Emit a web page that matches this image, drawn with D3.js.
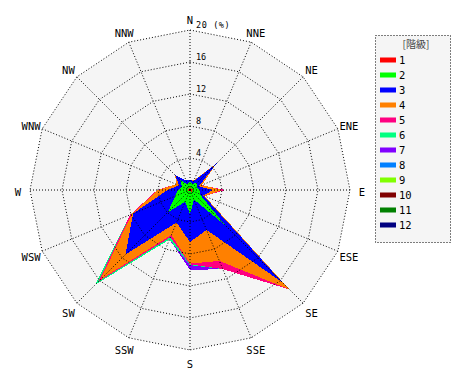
<!DOCTYPE html>
<html><head><meta charset="utf-8">
<script src="https://cdn.jsdelivr.net/npm/d3@7"></script>
<style>body{margin:0;background:#fff}svg{display:block}</style>
</head><body><svg id="c" width="470" height="380"></svg>
<script>
const directions = ["N","NNE","NE","ENE","E","ESE","SE","SSE","S","SSW","SW","WSW","W","WNW","NW","NNW"];
const classes = ["1","2","3","4","5","6","7","8","9","10","11","12"];
const colors = ["#ff0000","#00ff00","#0000ff","#ff8000","#ff0080","#00ff80","#8000ff","#0080ff","#80ff00","#800000","#008000","#000080"];
const ringTicks = [4, 8, 12, 16, 20];
const ringLabels = ["4", "8", "12", "16", "20 (%)"];
// frequency (%) per class, by direction N..NNW
const class1  = [0.2,0.2,0.2,0.3,0.4,0.2,0.3,0.2,0.2,0.2,0.2,0.2,0.2,0.2,0.2,0.2];
const class2  = [0.8,0.6,1.1,0.6,0.8,1.1,5.9,1.1,2.8,1.4,3.7,1.8,1.3,0.9,1.5,0.6];
const class3  = [0.3,0.4,3.4,0.3,1.7,0.5,10.1,4.1,3.5,2.8,7.5,5.7,1.3,0.4,0.9,0.5];
const class4  = [0,0.1,0,0.4,1.1,0.2,1.3,4.2,2.7,1.7,4.4,0.2,1.2,0.4,0,0];
const class5  = [0,0,0,0,0.4,0,0,1.1,0.1,0.3,0.4,0.2,0.1,0,0,0];
const class6  = [0,0,0,0,0,0,0,0,0.1,0.3,0.5,0,0,0,0,0];
const class7  = [0,0,0,0,0,0,0,0,0.6,0,0,0,0,0,0,0];
const class8  = [0,0,0,0,0,0,0,0,0,0,0,0,0,0,0,0];
const class9  = [0,0,0,0,0,0,0,0,0,0,0,0,0,0,0,0];
const class10 = [0,0,0,0,0,0,0,0,0,0,0,0,0,0,0,0];
const class11 = [0,0,0,0,0,0,0,0,0,0,0,0,0,0,0,0];
const class12 = [0,0,0,0,0,0,0,0,0,0,0,0,0,0,0,0];
const series = [class1,class2,class3,class4,class5,class6,class7,class8,class9,class10,class11,class12];

const svg = d3.select("#c");
const cx = 190, cy = 190, R = 160;
const r = d3.scaleLinear().domain([0, 20]).range([0, R]);
const ang = d3.scaleLinear().domain([0, directions.length]).range([0, 2*Math.PI]);
const g = svg.append("g").attr("transform", `translate(${cx},${cy})`);

const table = directions.map((d, i) => { const o = {dir: d}; classes.forEach((c, k) => o[c] = series[k][i]); return o; });
const stacked = d3.stack().keys(classes)(table);

const ringLine = d3.lineRadial().angle((d, i) => ang(i)).radius(d => r(d)).curve(d3.curveLinearClosed);

g.append("path").attr("d", ringLine(directions.map(() => 20))).attr("fill", "#f5f5f5");

const areaLine = d3.lineRadial().angle((d, i) => ang(i)).radius(d => r(d[1])).curve(d3.curveLinearClosed);
for (let k = stacked.length - 1; k >= 0; k--) {
  g.append("path").attr("d", areaLine(stacked[k])).attr("fill", colors[k])
    .attr("shape-rendering", "crispEdges");
}

ringTicks.forEach(v => {
  g.append("path").attr("d", ringLine(directions.map(() => v)))
    .attr("fill", "none").attr("stroke", "#000").attr("stroke-width", 1).attr("stroke-dasharray", "1,2");
});
directions.forEach((d, i) => {
  const a = ang(i);
  g.append("line").attr("x1", 0).attr("y1", 0)
    .attr("x2", r(20) * Math.sin(a)).attr("y2", -r(20) * Math.cos(a))
    .attr("stroke", "#000").attr("stroke-width", 1).attr("stroke-dasharray", "1,2");
});

directions.forEach((d, i) => {
  const a = ang(i), rr = 172;
  g.append("text").attr("x", rr * Math.sin(a)).attr("y", -rr * Math.cos(a) + 5.5)
    .attr("text-anchor", "middle").attr("font-family", "DejaVu Sans Mono, monospace")
    .attr("font-size", 10.5).attr("fill", "#000").text(d);
});

ringTicks.forEach((v, i) => {
  g.append("text").attr("x", 6).attr("y", -r(v) - 2)
    .attr("font-family", "DejaVu Sans Mono, monospace").attr("font-size", 8.5)
    .attr("letter-spacing", v === 20 ? 0.6 : 0)
    .attr("fill", "#000").text(ringLabels[i]);
});

const lg = svg.append("g");
lg.append("rect").attr("x", 375.5).attr("y", 35.5).attr("width", 75).attr("height", 207)
  .attr("fill", "#f5f5f5").attr("stroke", "#000").attr("stroke-dasharray", "1,2");
lg.append("text").attr("x", 416).attr("y", 48).attr("text-anchor", "middle")
  .attr("font-family", "Noto Sans CJK JP, sans-serif").attr("font-size", 10).attr("fill", "#444").text("[階級]");
const ly = d3.scaleBand().domain(classes).range([52.5, 232.5]);
classes.forEach((c, k) => {
  const y = ly(c) + ly.bandwidth() / 2;
  lg.append("rect").attr("x", 380).attr("y", y - 2.5).attr("width", 16).attr("height", 5).attr("fill", colors[k]);
  lg.append("text").attr("x", 399).attr("y", y + 3.8).attr("font-family", "DejaVu Sans Mono, monospace")
    .attr("font-size", 10.5).attr("fill", "#000").text(c);
});
</script></body></html>
